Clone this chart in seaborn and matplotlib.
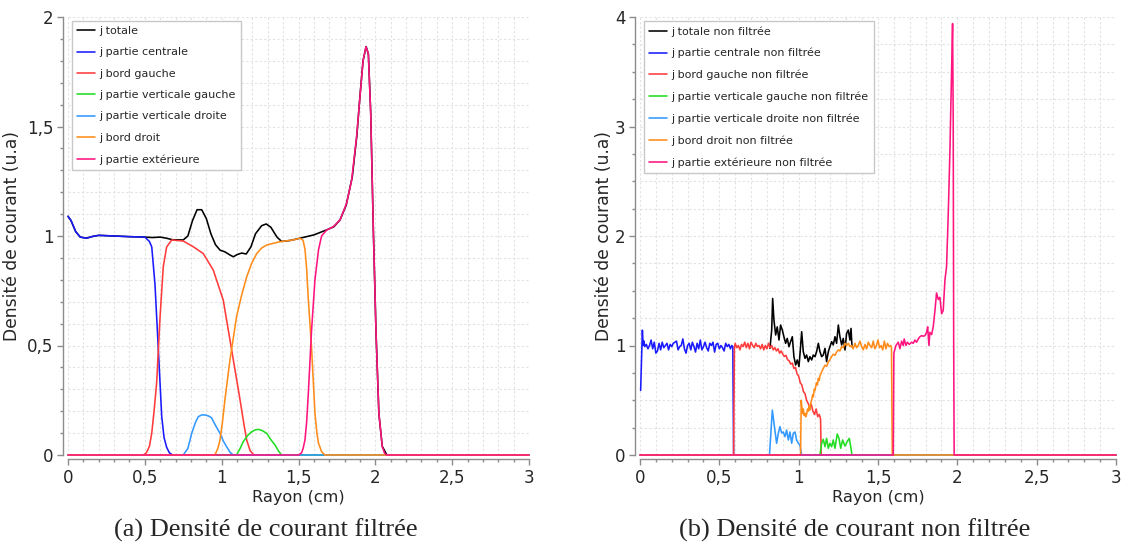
import matplotlib
matplotlib.use("Agg")
import matplotlib.pyplot as plt
import seaborn as sns
from matplotlib.ticker import MultipleLocator, FuncFormatter

# ---------------- (a) filtered current density ----------------
xa_totale = [0.0, 0.02, 0.05, 0.08, 0.12, 0.16, 0.2, 0.3, 0.4, 0.5, 0.55, 0.6, 0.64, 0.68, 0.75, 0.78, 0.81,
             0.84, 0.87, 0.9, 0.93, 0.96, 0.99, 1.02, 1.05, 1.076, 1.1, 1.13, 1.16, 1.19, 1.22, 1.26, 1.29,
             1.32, 1.36, 1.39, 1.45, 1.51, 1.6, 1.68, 1.73, 1.77, 1.81, 1.85, 1.88, 1.9, 1.92, 1.94, 1.955,
             1.97, 1.987, 2.004, 2.023, 2.045, 2.075, 3.0]
ya_totale = [1.09, 1.07, 1.02, 0.995, 0.99, 0.998, 1.003, 1.0, 0.997, 0.995, 0.993, 0.995, 0.99, 0.983, 0.982,
             1.0, 1.07, 1.12, 1.12, 1.08, 1.01, 0.96, 0.935, 0.928, 0.915, 0.905, 0.915, 0.922, 0.918, 0.95,
             1.01, 1.047, 1.055, 1.04, 0.995, 0.975, 0.98, 0.99, 1.005, 1.027, 1.042, 1.073, 1.14, 1.27,
             1.46, 1.64, 1.80, 1.865, 1.83, 1.56, 1.03, 0.57, 0.19, 0.04, 0.0, 0.0]

xa_centrale = [0.0, 0.02, 0.05, 0.08, 0.12, 0.16, 0.2, 0.3, 0.4, 0.5, 0.53, 0.545, 0.566, 0.588, 0.61, 0.625,
               0.642, 0.66, 0.68, 3.0]
ya_centrale = [1.09, 1.07, 1.02, 0.995, 0.99, 0.998, 1.003, 1.0, 0.997, 0.995, 0.975, 0.95, 0.78, 0.48, 0.175,
               0.08, 0.035, 0.01, 0.0, 0.0]

xa_gauche = [0.0, 0.49, 0.51, 0.53, 0.545, 0.56, 0.577, 0.599, 0.62, 0.642, 0.675, 0.75, 0.815, 0.88, 0.945,
             1.01, 1.065, 1.12, 1.145, 1.163, 1.185, 1.21, 3.0]
ya_gauche = [0.0, 0.0, 0.01, 0.04, 0.10, 0.2, 0.33, 0.63, 0.86, 0.95, 0.982, 0.977, 0.951, 0.92, 0.845, 0.708,
             0.48, 0.25, 0.14, 0.068, 0.02, 0.0, 0.0]

xa_vgauche = [0.0, 1.097, 1.12, 1.14, 1.17, 1.195, 1.22, 1.238, 1.26, 1.293, 1.32, 1.347, 1.37, 1.39, 3.0]
ya_vgauche = [0.0, 0.0, 0.03, 0.06, 0.09, 0.106, 0.115, 0.117, 0.113, 0.099, 0.07, 0.046, 0.018, 0.0, 0.0]

xa_vdroite = [0.0, 0.75, 0.78, 0.805, 0.83, 0.848, 0.87, 0.891, 0.915, 0.934, 0.96, 0.989, 1.01, 1.032, 1.055,
              1.076, 3.0]
ya_vdroite = [0.0, 0.0, 0.03, 0.099, 0.15, 0.175, 0.183, 0.183, 0.178, 0.17, 0.135, 0.099, 0.065, 0.038, 0.012,
              0.0, 0.0]

xa_droit = [0.0, 0.956, 0.975, 0.989, 1.005, 1.021, 1.054, 1.097, 1.13, 1.163, 1.195, 1.228, 1.26, 1.293, 1.379,
            1.466, 1.51, 1.53, 1.542, 1.553, 1.563, 1.585, 1.607, 1.62, 1.63, 1.65, 1.672, 3.0]
ya_droit = [0.0, 0.0, 0.03, 0.068, 0.15, 0.251, 0.434, 0.632, 0.73, 0.814, 0.875, 0.92, 0.945, 0.959, 0.974,
            0.982, 0.99, 0.98, 0.94, 0.85, 0.72, 0.49, 0.19, 0.1, 0.055, 0.015, 0.0, 0.0]

xa_ext = [0.0, 1.5, 1.52, 1.53, 1.542, 1.553, 1.563, 1.585, 1.607, 1.63, 1.65, 1.683, 1.726, 1.77, 1.813, 1.846,
          1.878, 1.9, 1.921, 1.939, 1.954, 1.97, 1.987, 2.004, 2.023, 2.045, 2.06, 2.073, 3.0]
ya_ext = [0.0, 0.0, 0.01, 0.03, 0.068, 0.15, 0.27, 0.57, 0.8, 0.936, 1.0, 1.027, 1.042, 1.073, 1.149, 1.256,
          1.453, 1.636, 1.804, 1.864, 1.834, 1.56, 1.027, 0.571, 0.19, 0.038, 0.008, 0.0, 0.0]

# ---------------- (b) unfiltered current density ----------------
xb_totale = [0.819, 0.83, 0.836, 0.844, 0.855, 0.865, 0.876, 0.886, 0.897, 0.907, 0.918, 0.928, 0.939, 0.949,
             0.96, 0.97, 0.981, 0.991, 1.002, 1.012, 1.019, 1.029, 1.04, 1.05, 1.061, 1.071, 1.082, 1.092,
             1.103, 1.113, 1.124, 1.134, 1.145, 1.155, 1.166, 1.176, 1.187, 1.197, 1.208, 1.218, 1.229, 1.239,
             1.25, 1.26, 1.271, 1.281, 1.292, 1.302, 1.313, 1.323, 1.33, 1.336]
yb_totale = [0.974, 1.141, 1.43, 1.233, 1.096, 1.17, 1.05, 1.187, 1.141, 1.08, 1.02, 1.065, 0.989, 1.035, 1.08,
             0.898, 0.822, 0.868, 0.807, 0.989, 1.126, 0.944, 0.883, 0.913, 0.853, 0.898, 0.868, 0.913, 0.898,
             0.944, 1.02, 0.944, 0.898, 0.913, 0.974, 0.853, 0.944, 0.989, 1.035, 1.005, 1.08, 1.02, 1.187,
             1.08, 1.005, 1.065, 0.959, 1.111, 1.141, 1.05, 1.156, 0.989]

xb_centrale = [0.004, 0.015, 0.02, 0.025, 0.03, 0.04, 0.05, 0.06, 0.07, 0.08, 0.09, 0.10, 0.11, 0.12, 0.13,
               0.14, 0.15, 0.16, 0.17, 0.18, 0.19, 0.20, 0.21, 0.22, 0.23, 0.24, 0.25, 0.26, 0.27, 0.28, 0.29,
               0.30, 0.31, 0.32, 0.33, 0.34, 0.35, 0.36, 0.37, 0.38, 0.39, 0.40, 0.41, 0.42, 0.43, 0.44, 0.45,
               0.46, 0.47, 0.48, 0.49, 0.50, 0.51, 0.52, 0.53, 0.54, 0.55, 0.56, 0.57, 0.578, 0.585, 0.59, 3.0]
yb_centrale = [0.59, 1.14, 1.0, 1.04, 0.99, 1.01, 0.97, 1.0, 1.05, 0.97, 1.03, 0.93, 0.95, 1.02, 0.96, 1.03,
               0.98, 1.0, 1.02, 0.96, 1.01, 0.99, 1.02, 1.03, 1.04, 0.96, 0.99, 1.0, 1.06, 0.97, 0.93, 1.0,
               1.02, 0.96, 1.03, 0.99, 0.94, 1.02, 0.97, 1.05, 0.96, 0.99, 1.03, 0.98, 0.95, 1.02, 1.0, 1.03,
               0.94, 1.01, 1.02, 0.97, 1.0, 0.98, 0.95, 1.02, 0.99, 1.01, 0.97, 1.0, 0.99, 0.0, 0.0]

xb_gauche = [0.0, 0.59, 0.595, 0.6, 0.61, 0.62, 0.63, 0.64, 0.65, 0.66, 0.67, 0.68, 0.69, 0.70, 0.71, 0.72,
             0.73, 0.74, 0.75, 0.76, 0.77, 0.78, 0.79, 0.80, 0.81, 0.82, 0.83, 0.84, 0.85, 0.86, 0.87, 0.88,
             0.89, 0.90, 0.91, 0.92, 0.93, 0.94, 0.95, 0.96, 0.97, 0.98, 0.99, 1.0, 1.01, 1.02, 1.03, 1.04,
             1.05, 1.06, 1.07, 1.08, 1.09, 1.10, 1.11, 1.12, 1.13, 1.138, 1.142, 3.0]
yb_gauche = [0.0, 0.0, 0.98, 1.02, 0.98, 1.0, 0.96, 1.01, 0.99, 1.03, 0.98, 1.02, 0.97, 1.03, 1.0, 0.98, 1.02,
             0.99, 1.0, 0.97, 1.01, 0.96, 1.0, 0.97, 1.02, 0.98, 1.0, 0.96, 0.98, 0.95, 0.97, 0.93, 0.95, 0.92,
             0.9, 0.91, 0.87, 0.86, 0.83, 0.84, 0.79, 0.8, 0.74, 0.72, 0.66, 0.64, 0.58, 0.56, 0.5, 0.47, 0.44,
             0.46, 0.4, 0.37, 0.42, 0.35, 0.37, 0.33, 0.0, 0.0]

xb_vgauche = [0.0, 1.134, 1.145, 1.155, 1.166, 1.176, 1.187, 1.197, 1.208, 1.218, 1.229, 1.243, 1.254, 1.265,
              1.277, 1.292, 1.306, 1.319, 1.328, 1.336, 3.0]
yb_vgauche = [0.0, 0.0, 0.107, 0.143, 0.076, 0.152, 0.061, 0.107, 0.076, 0.137, 0.061, 0.192, 0.152, 0.061,
              0.137, 0.082, 0.122, 0.152, 0.076, 0.0, 0.0]

xb_vdroite = [0.0, 0.816, 0.834, 0.85, 0.861, 0.872, 0.882, 0.893, 0.903, 0.914, 0.924, 0.935, 0.945, 0.956,
              0.966, 0.977, 0.987, 0.998, 1.008, 1.019, 3.0]
yb_vdroite = [0.0, 0.0, 0.41, 0.228, 0.107, 0.2, 0.259, 0.2, 0.21, 0.167, 0.228, 0.137, 0.21, 0.107, 0.198,
              0.21, 0.137, 0.107, 0.09, 0.0, 0.0]

xb_droit = [0.0, 1.012, 1.016, 1.024, 1.029, 1.035, 1.04, 1.045, 1.05, 1.056, 1.061, 1.066, 1.071, 1.077, 1.082,
            1.088, 1.092, 1.098, 1.103, 1.108, 1.113, 1.118, 1.124, 1.129, 1.134, 1.145, 1.155, 1.166, 1.176,
            1.187, 1.197, 1.208, 1.218, 1.229, 1.239, 1.25, 1.26, 1.271, 1.281, 1.292, 1.302, 1.313, 1.323,
            1.334, 1.344, 1.355, 1.365, 1.376, 1.386, 1.397, 1.407, 1.418, 1.428, 1.439, 1.449, 1.46, 1.47,
            1.48, 1.49, 1.5, 1.51, 1.52, 1.53, 1.54, 1.55, 1.56, 1.57, 1.58, 1.585, 1.59, 3.0]
yb_droit = [0.0, 0.0, 0.5, 0.38, 0.42, 0.36, 0.38, 0.35, 0.37, 0.42, 0.4, 0.45, 0.41, 0.48, 0.5, 0.55, 0.53, 0.6,
            0.59, 0.63, 0.66, 0.64, 0.7, 0.68, 0.72, 0.76, 0.79, 0.82, 0.81, 0.85, 0.87, 0.9, 0.92, 0.91, 0.94,
            0.96, 0.95, 0.99, 0.98, 1.02, 1.0, 1.02, 0.99, 1.0, 0.97, 1.02, 0.98, 1.0, 1.04, 0.99, 0.96, 1.01,
            0.97, 1.03, 1.0, 0.98, 1.04, 0.97, 1.0, 1.05, 0.98, 1.0, 0.96, 1.04, 0.97, 1.02, 0.99, 1.0, 0.98,
            0.0, 0.0]

xb_ext = [0.0, 1.596, 1.6, 1.613, 1.628, 1.638, 1.649, 1.659, 1.665, 1.676, 1.685, 1.697, 1.712, 1.722, 1.733,
          1.743, 1.754, 1.764, 1.775, 1.785, 1.796, 1.806, 1.813, 1.821, 1.827, 1.838, 1.848, 1.859, 1.869,
          1.88, 1.89, 1.901, 1.911, 1.922, 1.932, 1.943, 1.953, 1.964, 1.97, 1.974, 1.977, 1.98, 3.0]
yb_ext = [0.0, 0.0, 0.93, 1.0, 1.03, 0.97, 1.04, 1.0, 1.06, 1.0, 1.03, 1.01, 1.03, 1.02, 1.05, 1.03, 1.06, 1.08,
          1.09, 1.085, 1.09, 1.12, 1.17, 1.0, 1.12, 1.1, 1.17, 1.32, 1.48, 1.42, 1.44, 1.29, 1.32, 1.6, 1.72,
          2.21, 2.76, 3.52, 3.94, 3.06, 1.0, 0.0, 0.0]

labels_a = ["j totale", "j partie centrale", "j bord gauche", "j partie verticale gauche",
            "j partie verticale droite", "j bord droit", "j partie extérieure"]
labels_b = [l + " non filtrée" for l in labels_a]
caption_a = "(a) Densité de courant filtrée"
caption_b = "(b) Densité de courant non filtrée"

colors = ["#000000", "#1a1aff", "#ff3b3b", "#22dd22", "#3399ff", "#ff8c1a", "#ff1480"]

sns.set_style("white")
plt.rcParams['font.family'] = ['DejaVu Sans']

W, H = 1127, 547
fig = plt.figure(figsize=(W / 100, H / 100), dpi=100)
axL = fig.add_axes([68 / W, 92 / H, 461 / W, 438 / H])
axR = fig.add_axes([640 / W, 92 / H, 476 / W, 438 / H])

series_a = [(xa_totale, ya_totale), (xa_centrale, ya_centrale), (xa_gauche, ya_gauche),
            (xa_vgauche, ya_vgauche), (xa_vdroite, ya_vdroite), (xa_droit, ya_droit), (xa_ext, ya_ext)]
series_b = [(xb_totale, yb_totale), (xb_centrale, yb_centrale), (xb_gauche, yb_gauche),
            (xb_vgauche, yb_vgauche), (xb_vdroite, yb_vdroite), (xb_droit, yb_droit), (xb_ext, yb_ext)]

fmt = FuncFormatter(lambda v, p: ('%g' % v).replace('.', ','))


def style(ax, ymax, ymajor, yminor, ylabelpad, legend_labels):
    ax.set_xlim(0, 3)
    ax.set_ylim(0, ymax)
    ax.xaxis.set_major_locator(MultipleLocator(0.5))
    ax.xaxis.set_minor_locator(MultipleLocator(0.1))
    ax.yaxis.set_major_locator(MultipleLocator(ymajor))
    ax.yaxis.set_minor_locator(MultipleLocator(yminor))
    ax.xaxis.set_major_formatter(fmt)
    ax.yaxis.set_major_formatter(fmt)
    ax.grid(True, which='both', color='#e2e2e2', linestyle=(0, (2, 2)), linewidth=0.8)
    ax.set_axisbelow(True)
    sns.despine(ax=ax, offset={'left': 3.6, 'bottom': 2.9})
    for s in ('left', 'bottom'):
        ax.spines[s].set_color('#8c8c8c')
        ax.spines[s].set_linewidth(1.0)
    ax.tick_params(which='both', bottom=True, left=True, direction='out', color='#8c8c8c', width=1.0)
    ax.tick_params(which='major', length=4, labelsize=12, pad=3)
    ax.tick_params(which='minor', length=2.5)
    ax.set_xlabel("Rayon (cm)", fontsize=11.6, labelpad=2)
    ax.set_ylabel("Densité de courant (u.a)", fontsize=12.3, labelpad=ylabelpad)
    handles, _ = ax.get_legend_handles_labels()
    leg = ax.legend(handles, legend_labels, loc='upper left', bbox_to_anchor=(0.008, 0.992),
                    borderaxespad=0, fontsize=8, frameon=True, fancybox=False, edgecolor='#c8c8c8',
                    framealpha=1, handlelength=1.6, handletextpad=0.35, labelspacing=1.02, borderpad=0.5)
    leg.get_frame().set_linewidth(1.0)


for ax, series, labs in ((axL, series_a, labels_a), (axR, series_b, labels_b)):
    for (xs, ys), lab, col in zip(series, labs, colors):
        sns.lineplot(x=xs, y=ys, ax=ax, color=col, lw=1.15, label=lab, estimator=None, sort=False,
                     clip_on=False)

style(axL, 2, 0.5, 0.1, 4, labels_a)
style(axR, 4, 1, 0.25, 1.5, labels_b)

fig.text(266 / W, 1 - 530 / H, caption_a, ha='center', va='center', family='Liberation Serif', fontsize=19)
fig.text(855 / W, 1 - 530 / H, caption_b, ha='center', va='center', family='Liberation Serif', fontsize=19)

fig.savefig("out.png", dpi=100)
